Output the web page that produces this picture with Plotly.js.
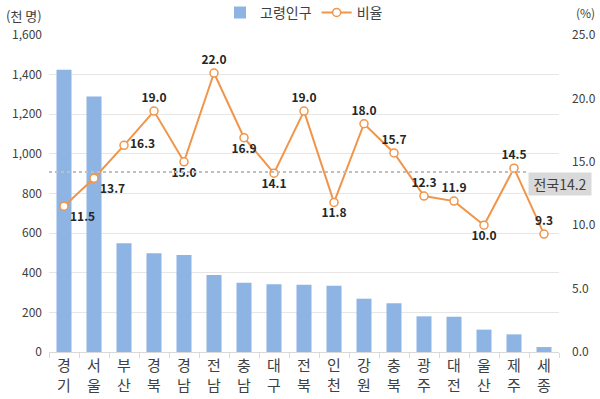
<!DOCTYPE html>
<html>
<head>
<meta charset="utf-8">
<script src="https://cdn.plot.ly/plotly-3.0.1.min.js"></script>
<style>html,body{margin:0;padding:0;background:#fff;}#chart{width:600px;height:399px;}</style>
</head>
<body>
<div id="chart"></div>
<script>
const regions = ['경기','서울','부산','경북','경남','전남','충남','대구','전북','인천','강원','충북','광주','대전','울산','제주','세종'];
const elderly = [1425,1290,549,498,490,389,350,342,340,335,269,246,180,178,113,89,25];
const ratio = [11.5,13.7,16.3,19.0,15.0,22.0,16.9,14.1,19.0,11.8,18.0,15.7,12.3,11.9,10.0,14.5,9.3];
const labelPos = ['bottom right','bottom right','middle right','top center','bottom center','top center','bottom center','bottom center','top center','bottom center','top center','top center','top center','top center','bottom center','top center','top center'];
const national = 14.2;

const xlabels = regions.map(r => r.split('').join('<br>'));
const FONT = 'Noto Sans CJK KR, Noto Sans, sans-serif';

const traces = [
  {
    type: 'bar', name: '고령인구', x: xlabels, y: elderly,
    marker: {color: '#8DB4E2'}, yaxis: 'y'
  },
  {
    type: 'scatter', name: '비율', x: xlabels, y: ratio, yaxis: 'y2',
    mode: 'lines+markers+text',
    line: {color: '#F0954A', width: 2},
    marker: {symbol: 'circle', size: 8, color: '#ffffff', line: {color: '#F0954A', width: 1.5}},
    texttemplate: '<b>%{y:.1f}</b>', textposition: labelPos,
    textfont: {family: FONT, size: 12, color: '#262626'},
    cliponaxis: false
  }
];

const layout = {
  width: 600, height: 399,
  margin: {l: 49, r: 41, t: 35, b: 47, autoexpand: false},
  paper_bgcolor: '#fff', plot_bgcolor: '#fff',
  font: {family: FONT, color: '#404040', size: 12},
  bargap: 0.5,
  showlegend: true,
  legend: {orientation: 'h', x: 0.5, xanchor: 'center', y: 1.07, yanchor: 'middle',
           font: {size: 14, color: '#404040'}, itemwidth: 30, tracegroupgap: 0},
  xaxis: {
    type: 'category', range: [-0.5, regions.length - 0.5],
    tickson: 'boundaries', ticks: 'outside', ticklen: 5, tickcolor: '#D9D9D9',
    showline: true, linecolor: '#D9D9D9', linewidth: 1, showgrid: false, automargin: false,
    tickfont: {size: 15, color: '#404040'}
  },
  yaxis: {
    range: [0, 1600], dtick: 200, tickformat: ',d', gridcolor: '#E6E6E6',
    zeroline: false, showline: false, ticklabelstandoff: 6, automargin: false,
    tickfont: {size: 12, color: '#404040'}
  },
  yaxis2: {
    range: [0, 25], dtick: 5, tickformat: '.1f', overlaying: 'y', side: 'right',
    showgrid: false, zeroline: false, ticklabelstandoff: 12, automargin: false,
    tickfont: {size: 12, color: '#404040'}
  },
  shapes: [
    {type: 'line', xref: 'paper', yref: 'y2', x0: 0, x1: 0.937, y0: national, y1: national,
     line: {color: '#BFBFBF', width: 2, dash: 'dot'}}
  ],
  annotations: [
    {xref: 'paper', yref: 'paper', x: -0.088, y: 1.063, xanchor: 'left', yanchor: 'middle',
     text: '(천 명)', showarrow: false, font: {size: 13, color: '#404040'}},
    {xref: 'paper', yref: 'paper', x: 1.052, y: 1.07, xanchor: 'center', yanchor: 'middle',
     text: '(%)', showarrow: false, font: {size: 12, color: '#404040'}},
    {xref: 'paper', yref: 'y2', x: 0.94, y: national, xanchor: 'left', yanchor: 'top',
     text: '전국' + national.toFixed(1), showarrow: false, bgcolor: '#D9D9D9',
     font: {size: 14, color: '#404040'}, borderpad: 1, width: 60}
  ]
};

Plotly.newPlot('chart', traces, layout, {displayModeBar: false, staticPlot: true});
</script>
</body>
</html>
